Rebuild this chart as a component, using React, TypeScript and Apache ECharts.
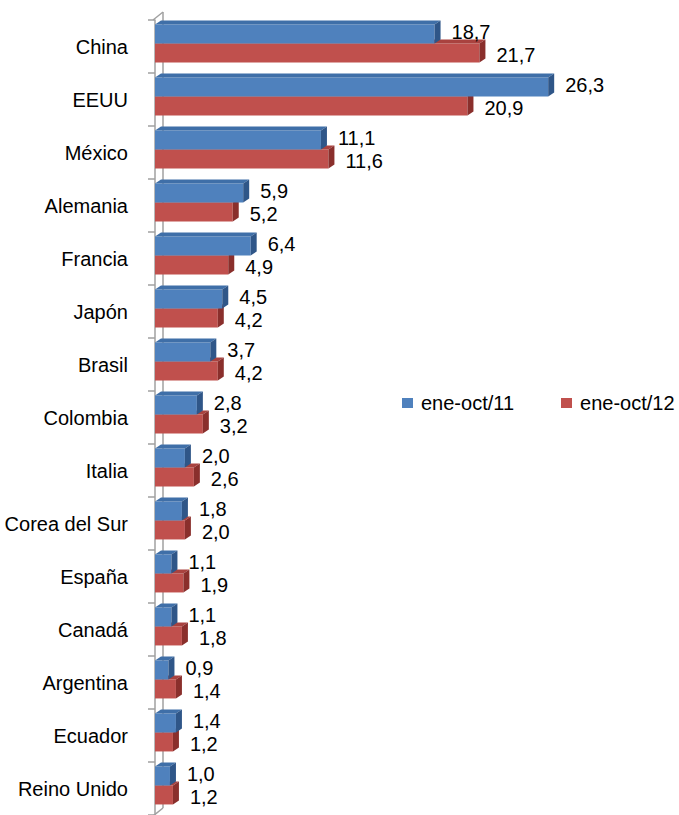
import React, { useEffect, useRef } from "react";
import * as echarts from "echarts";

const categories = [
  "China", "EEUU", "México", "Alemania", "Francia", "Japón", "Brasil", "Colombia",
  "Italia", "Corea del Sur", "España", "Canadá", "Argentina", "Ecuador", "Reino Unido",
];
const seriesNames = ["ene-oct/11", "ene-oct/12"];
const values2011 = [18.7, 26.3, 11.1, 5.9, 6.4, 4.5, 3.7, 2.8, 2.0, 1.8, 1.1, 1.1, 0.9, 1.4, 1.0];
const values2012 = [21.7, 20.9, 11.6, 5.2, 4.9, 4.2, 4.2, 3.2, 2.6, 2.0, 1.9, 1.8, 1.4, 1.2, 1.2];

const FONT = '"Liberation Sans", Arial, sans-serif';
const COLORS = [
  { front: "#4F81BD", top: "#3F6FA8", side: "#2F5688" },
  { front: "#C0504D", top: "#A9423F", side: "#8A2F2C" },
];

const fmt = (v: number) => v.toFixed(1).replace(".", ",");

function makeRender(idx: number) {
  return (params: any, api: any) => {
    const v = api.value(0);
    const ci = api.value(1);
    const p0 = api.coord([0, ci]);
    const p1 = api.coord([v, ci]);
    const band = api.size([0, 1])[1];
    const h = band * 0.358;
    const gc = p0[1] - band * 0.057;
    const yTop = idx === 0 ? gc - h : gc;
    const x0 = p0[0];
    const x1 = p1[0];
    const dx = 6;
    const dy = 4;
    const c = COLORS[idx];
    return {
      type: "group",
      children: [
        {
          type: "rect",
          shape: { x: x0, y: yTop, width: x1 - x0, height: h },
          style: { fill: c.front },
        },
        {
          type: "polygon",
          shape: { points: [[x0, yTop], [x1, yTop], [x1 + dx, yTop - dy], [x0 + dx, yTop - dy]] },
          style: { fill: c.top },
        },
        {
          type: "polygon",
          shape: { points: [[x1, yTop], [x1 + dx, yTop - dy], [x1 + dx, yTop + h - dy], [x1, yTop + h]] },
          style: { fill: c.side },
        },
        {
          type: "text",
          style: {
            text: fmt(v),
            x: x1 + 17,
            y: yTop + h / 2 + (idx === 0 ? -2 : 2),
            align: "left",
            verticalAlign: "middle",
            fontSize: 20,
            fontFamily: FONT,
            fill: "#000",
          },
        },
      ],
    };
  };
}

export default function App() {
  const ref = useRef<HTMLDivElement>(null);
  useEffect(() => {
    document.body.style.margin = "0";
    const chart = echarts.init(ref.current!, null, { renderer: "svg" });
    const mk = (vals: number[]) => vals.map((v, i) => [v, i]);
    chart.setOption({
      animation: false,
      backgroundColor: "#fff",
      legend: {
        data: seriesNames,
        orient: "horizontal",
        left: 402,
        top: 393,
        width: 290,
        padding: 0,
        itemWidth: 11,
        itemHeight: 10,
        itemGap: 47,
        icon: "rect",
        textStyle: { fontSize: 20, fontFamily: FONT, color: "#000", padding: [0, 0, 0, 3] },
      },
      grid: { left: 155, top: 20, width: 448.5, height: 796, containLabel: false },
      xAxis: { type: "value", min: 0, max: 30, show: false },
      yAxis: {
        type: "category",
        data: categories,
        inverse: true,
        offset: 2,
        axisLine: { show: true, lineStyle: { color: "#A0A0A0", width: 1.5 } },
        axisTick: { show: true, length: 7, lineStyle: { color: "#A0A0A0", width: 1.5 } },
        axisLabel: { fontSize: 20, fontFamily: FONT, color: "#000", margin: 25 },
        splitLine: { show: false },
      },
      graphic: [
        { type: "line", shape: { x1: 163, y1: 12, x2: 163, y2: 808 }, style: { stroke: "#A0A0A0", lineWidth: 1.5 }, z: 0 },
        { type: "line", shape: { x1: 153, y1: 20, x2: 163, y2: 12 }, style: { stroke: "#A0A0A0", lineWidth: 1.5 }, z: 0 },
        { type: "line", shape: { x1: 153, y1: 816, x2: 163, y2: 808 }, style: { stroke: "#A0A0A0", lineWidth: 1.5 }, z: 0 },
      ],
      series: [
        {
          name: seriesNames[1],
          type: "custom",
          renderItem: makeRender(1),
          encode: { x: 0, y: 1 },
          itemStyle: { color: COLORS[1].front },
          data: mk(values2012),
          z: 2,
        },
        {
          name: seriesNames[0],
          type: "custom",
          renderItem: makeRender(0),
          encode: { x: 0, y: 1 },
          itemStyle: { color: COLORS[0].front },
          data: mk(values2011),
          z: 3,
        },
      ],
    });
    return () => chart.dispose();
  }, []);
  return <div ref={ref} style={{ width: 679, height: 815 }} />;
}
